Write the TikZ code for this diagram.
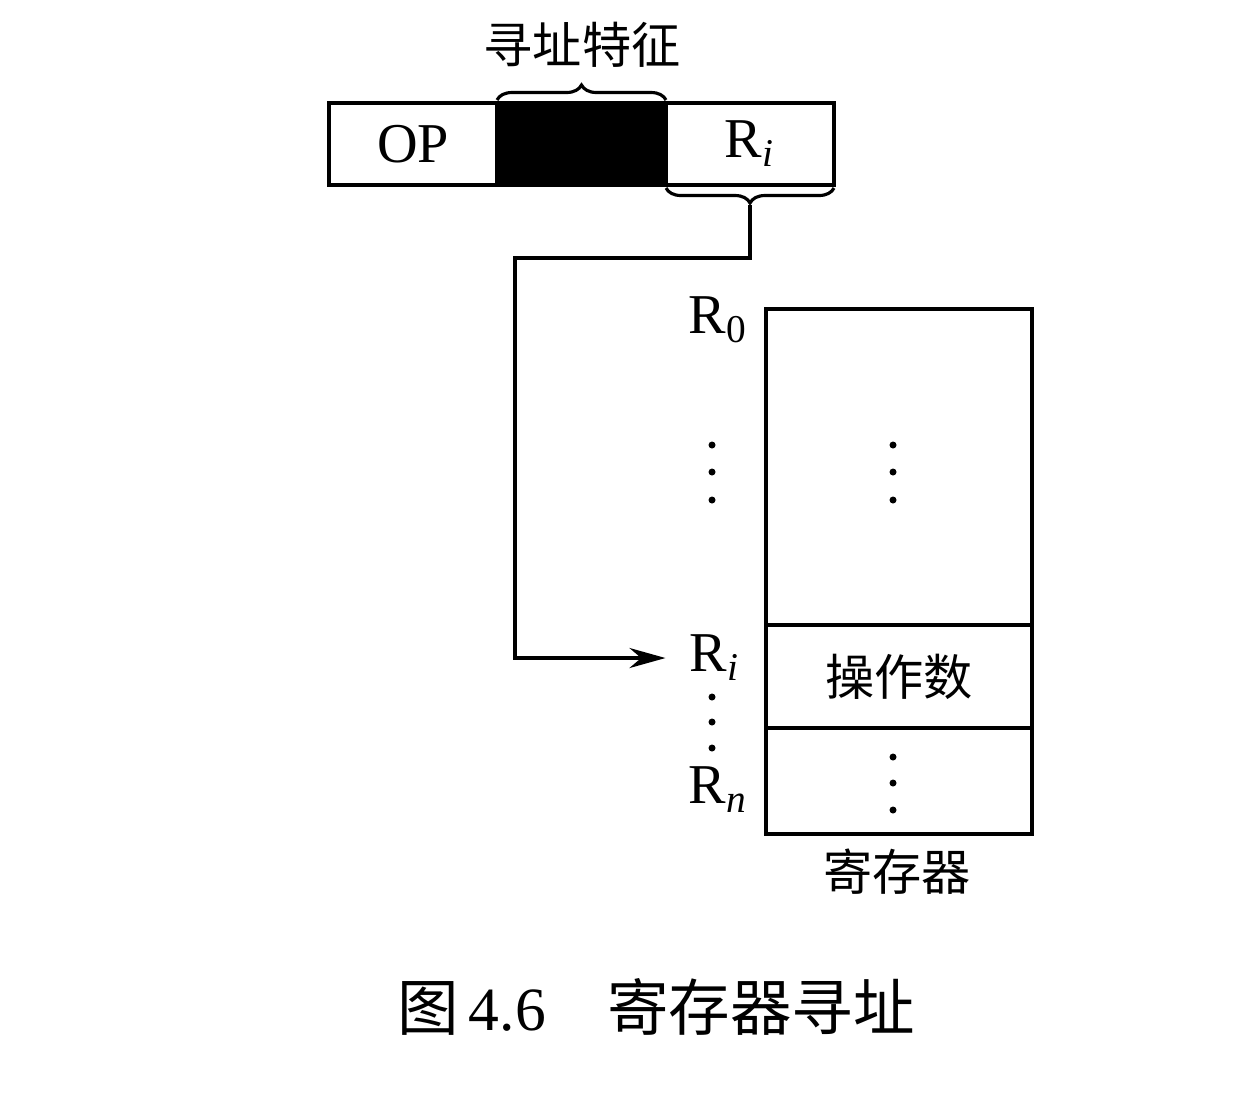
\documentclass[tikz,border=0pt]{standalone}
\usepackage{fontspec}
\setmainfont{Liberation Serif}
\newfontfamily\cjk{Noto Sans CJK SC}
\usetikzlibrary{arrows.meta,decorations.pathreplacing,calc}

\newcommand{\regi}[1]{R\textsubscript{\itshape #1}}

\begin{document}
\begin{tikzpicture}[
  cell/.style={draw, line width=1pt, minimum height=0.82cm, inner sep=0pt, outer sep=0pt},
  lbl/.style={font=\fontsize{16}{18}\selectfont},
  zh/.style={font=\cjk\fontsize{14}{16}\selectfont},
  arr/.style={-{Stealth[length=0.36cm,width=0.2cm]}, line width=1pt},
  brc/.style={decorate, decoration={brace, amplitude=0.15cm}, line width=0.9pt}
]
\useasboundingbox (0,0) rectangle (12.54,-10.96);
% instruction word
\node[cell, minimum width=1.68cm, lbl] (op) at (4.13,-1.44) {OP};
\node[cell, minimum width=1.69cm, fill=black] (mode) at (5.815,-1.44) {};
\node[cell, minimum width=1.68cm, lbl] (ri) at (7.50,-1.44) {\regi{i}};
\draw[brc] ([yshift=0.03cm]mode.north west) -- ([yshift=0.03cm]mode.north east);
\node[zh] (feat) at (5.82,-0.45) {寻址特征};
\draw[brc] ([yshift=-0.03cm]ri.south east) -- ([yshift=-0.03cm]ri.south west);
\coordinate (tip) at ($(ri.south)+(0,-0.2)$);
% register file
\node[cell, minimum width=2.66cm, minimum height=3.16cm, anchor=north west] (top) at (7.66,-3.09) {};
\node[cell, minimum width=2.66cm, minimum height=1.03cm, anchor=north, zh] (opd) at (top.south) {操作数};
\node[cell, minimum width=2.66cm, minimum height=1.06cm, anchor=north] (rest) at (opd.south) {};
\node[zh] (file) at (8.97,-8.72) {寄存器};
\node[lbl] (r0) at (7.18,-3.20) {R\textsubscript{0}};
\node[lbl] (rl) at (7.15,-6.58) {\regi{i}};
\node[lbl] (rn) at (7.18,-7.90) {\regi{n}};
\foreach \y in {4.45,4.72,5.00} {
  \fill (7.12,-\y) circle (0.035);
  \fill (8.93,-\y) circle (0.035);
}
\foreach \y in {6.97,7.22,7.48} \fill (7.12,-\y) circle (0.035);
\foreach \y in {7.57,7.83,8.10} \fill (8.93,-\y) circle (0.035);
% address path
\coordinate (bend) at (5.15,-2.58);
\draw[arr] (tip) |- (bend) |- ([xshift=-0.12cm]rl.west);
% caption
\node[font=\fontsize{17.5}{20}\selectfont] (cap) at (6.56,-10.07) {{\cjk 图}\,4.6\quad{\cjk 寄存器寻址}};
\end{tikzpicture}
\end{document}
